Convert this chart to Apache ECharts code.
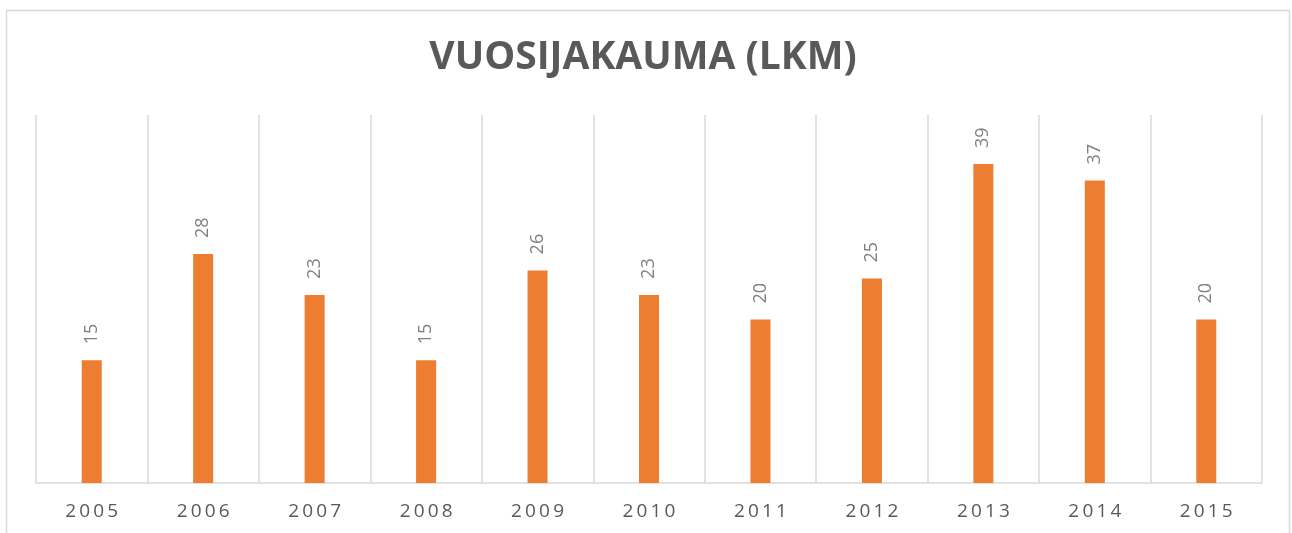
<!DOCTYPE html>
<html>
<head>
<meta charset="utf-8">
<script src="https://cdn.jsdelivr.net/npm/echarts@6/dist/echarts.min.js"></script>
<style>
html,body{margin:0;padding:0;background:#fff;}
#c{width:1292px;height:533px;}
</style>
</head>
<body>
<div id="c"></div>
<script>
const titleText = 'VUOSIJAKAUMA (LKM)';
const years = ['2005','2006','2007','2008','2009','2010','2011','2012','2013','2014','2015'];
const counts = [15, 28, 23, 15, 26, 23, 20, 25, 39, 37, 20];

const chart = echarts.init(document.getElementById('c'), null, {renderer: 'canvas'});
chart.setOption({
  animation: false,
  backgroundColor: '#ffffff',
  title: {
    text: titleText,
    left: 638,
    top: 33,
    textAlign: 'center',
    textStyle: {
      fontFamily: 'Open Sans',
      fontWeight: 'bold',
      fontSize: 39,
      color: '#595959'
    }
  },
  graphic: [{
    type: 'rect',
    shape: {x: 6.5, y: 10.5, width: 1283, height: 600},
    style: {fill: 'none', stroke: '#d9d9d9', lineWidth: 1.5},
    silent: true,
    z: -1
  }],
  grid: {left: 36, right: 30, top: 115, bottom: 50},
  xAxis: {
    type: 'category',
    data: years,
    boundaryGap: true,
    axisLine: {show: true, lineStyle: {color: '#d9d9d9', width: 1.5}},
    axisTick: {show: false},
    splitLine: {show: true, interval: 0, lineStyle: {color: '#d9d9d9', width: 1.5}},
    axisLabel: {
      interval: 0,
      margin: 19,
      color: '#595959',
      fontFamily: 'Open Sans',
      fontSize: 19,
      formatter: v => v.split('').join('\u2009')
    }
  },
  yAxis: {
    type: 'value',
    min: 0,
    max: 45,
    show: false,
    splitLine: {show: false}
  },
  series: [{
    type: 'bar',
    data: counts,
    barWidth: 20,
    itemStyle: {color: '#ED7D31'},
    label: {
      show: true,
      position: 'top',
      rotate: 90,
      align: 'left',
      verticalAlign: 'middle',
      distance: 16,
      color: '#808080',
      fontFamily: 'Open Sans',
      fontSize: 18
    }
  }]
});
</script>
</body>
</html>
